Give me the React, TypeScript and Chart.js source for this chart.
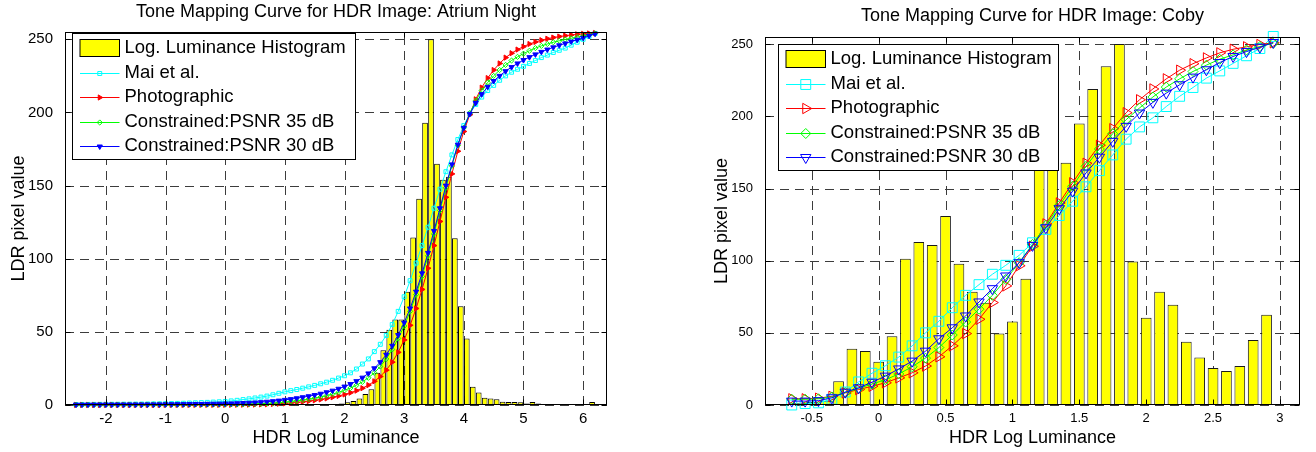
import React, { useEffect, useRef } from 'react';
import { Chart, registerables } from 'chart.js';

Chart.register(...registerables);

const FONT = '"Liberation Sans", Arial, Helvetica, sans-serif';

const seriesLabels = [
  'Log. Luminance Histogram',
  'Mai et al.',
  'Photographic',
  'Constrained:PSNR 35 dB',
  'Constrained:PSNR 30 dB',
];
const seriesColors = ['#00FFFF', '#FF0000', '#00FF00', '#0000FF'];

// ---------------- Atrium Night ----------------
const atriumTitle = 'Tone Mapping Curve for HDR Image: Atrium Night';
const atriumXTicks = [-2, -1, 0, 1, 2, 3, 4, 5, 6];
const atriumYTicks = [0, 50, 100, 150, 200, 250];

const atriumHistX = [
  1.55, 1.65, 1.75, 1.85, 1.95, 2.05, 2.15, 2.25, 2.35, 2.45,
  2.55, 2.65, 2.75, 2.85, 2.95, 3.05, 3.15, 3.25, 3.35, 3.45,
  3.55, 3.65, 3.75, 3.85, 3.95, 4.05, 4.15, 4.25, 4.35, 4.45,
  4.55, 4.65, 4.75, 4.85, 4.95, 5.05, 5.15, 5.25, 5.35, 5.45,
  5.55, 5.65, 5.75, 5.85, 5.95, 6.05, 6.15, 6.25,
];
const atriumHistY = [
  0.2, 0.3, 0.4, 0.6, 1.0, 1.8, 2.8, 4.5, 7.5, 10.7,
  22.0, 37.5, 51.5, 58.5, 58.5, 77.5, 114.5, 141.0, 193.0, 250.0,
  165.0, 154.0, 156.0, 114.0, 67.5, 45.5, 12.5, 8.5, 5.0, 4.5,
  4.0, 2.3, 2.0, 2.0, 1.8, 1.0, 2.0, 1.0, 0.5, 0.4,
  0.3, 0.3, 0.3, 0.3, 0.3, 0.3, 2.0, 0.3,
];

const atriumCurveX = [
  -2.5, -2.4, -2.3, -2.2, -2.1, -2.0, -1.9, -1.8, -1.7, -1.6,
  -1.5, -1.4, -1.3, -1.2, -1.1, -1.0, -0.9, -0.8, -0.7, -0.6,
  -0.5, -0.4, -0.3, -0.2, -0.1, 0.0, 0.1, 0.2, 0.3, 0.4,
  0.5, 0.6, 0.7, 0.8, 0.9, 1.0, 1.1, 1.2, 1.3, 1.4,
  1.5, 1.6, 1.7, 1.8, 1.9, 2.0, 2.1, 2.2, 2.3, 2.4,
  2.5, 2.6, 2.7, 2.8, 2.9, 3.0, 3.1, 3.2, 3.3, 3.4,
  3.5, 3.6, 3.7, 3.8, 3.9, 4.0, 4.1, 4.2, 4.3, 4.4,
  4.5, 4.6, 4.7, 4.8, 4.9, 5.0, 5.1, 5.2, 5.3, 5.4,
  5.5, 5.6, 5.7, 5.8, 5.9, 6.0, 6.1, 6.2,
];
const atriumMai = [
  0.35, 0.38, 0.40, 0.43, 0.45, 0.48, 0.50, 0.53, 0.56, 0.60,
  0.63, 0.67, 0.72, 0.77, 0.83, 0.90, 1.00, 1.10, 1.20, 1.35,
  1.50, 1.65, 1.80, 2.00, 2.20, 2.40, 2.80, 3.20, 3.70, 4.20,
  4.80, 5.40, 6.10, 7.00, 8.00, 9.00, 9.80, 10.6, 11.5, 12.4,
  13.4, 14.5, 15.6, 16.9, 18.4, 20.0, 22.0, 24.6, 28.0, 31.5,
  36.5, 41.5, 47.5, 55.0, 64.0, 74.0, 85.0, 97.0, 109.0, 121.5,
  134.5, 147.5, 159.5, 171.0, 181.5, 191.0, 199.0, 205.5, 210.5, 215.0,
  218.5, 222.0, 225.0, 227.5, 229.5, 231.5, 233.5, 235.5, 237.5, 239.2,
  241.0, 242.5, 244.0, 246.0, 248.0, 250.0, 252.0, 254.0,
];
const atriumPhoto = [
  0.02, 0.02, 0.02, 0.02, 0.02, 0.03, 0.03, 0.03, 0.03, 0.04,
  0.04, 0.04, 0.05, 0.05, 0.05, 0.06, 0.06, 0.07, 0.07, 0.08,
  0.08, 0.09, 0.10, 0.11, 0.12, 0.13, 0.15, 0.17, 0.20, 0.25,
  0.30, 0.40, 0.50, 0.70, 0.90, 1.10, 1.40, 1.80, 2.20, 2.70,
  3.20, 3.80, 4.50, 5.30, 6.20, 7.20, 8.40, 9.80, 11.5, 13.6,
  16.2, 19.5, 23.8, 29.3, 36.0, 44.5, 54.5, 66.0, 79.0, 93.5,
  109.0, 125.5, 142.0, 158.0, 173.5, 187.0, 198.5, 209.0, 217.0, 223.5,
  229.0, 233.5, 237.5, 240.5, 243.0, 245.0, 246.8, 248.2, 249.4, 250.4,
  251.2, 251.9, 252.5, 253.0, 253.4, 253.7, 254.0, 254.3,
];
const atriumPsnr35 = [
  0.15, 0.15, 0.16, 0.16, 0.17, 0.17, 0.18, 0.18, 0.19, 0.19,
  0.20, 0.20, 0.21, 0.22, 0.22, 0.23, 0.24, 0.25, 0.26, 0.27,
  0.28, 0.29, 0.30, 0.32, 0.33, 0.35, 0.40, 0.47, 0.55, 0.65,
  0.77, 0.92, 1.10, 1.35, 1.65, 2.00, 2.40, 2.90, 3.40, 4.00,
  4.70, 5.50, 6.40, 7.40, 8.60, 10.0, 11.6, 13.5, 15.8, 18.6,
  22.0, 26.3, 31.5, 38.0, 45.5, 54.0, 64.0, 75.5, 88.0, 102.0,
  117.0, 133.0, 148.5, 163.5, 177.5, 189.5, 199.5, 208.0, 215.0, 220.5,
  225.0, 229.0, 232.5, 235.5, 238.0, 240.2, 242.2, 244.0, 245.5, 246.8,
  248.0, 249.0, 249.9, 250.7, 251.5, 252.3, 253.1, 254.0,
];
const atriumPsnr30 = [
  0.25, 0.26, 0.27, 0.28, 0.29, 0.30, 0.31, 0.32, 0.33, 0.34,
  0.35, 0.36, 0.38, 0.40, 0.42, 0.45, 0.50, 0.53, 0.57, 0.62,
  0.67, 0.72, 0.78, 0.85, 0.92, 1.00, 1.10, 1.20, 1.35, 1.50,
  1.70, 1.95, 2.25, 2.60, 3.00, 3.50, 4.00, 4.60, 5.30, 6.00,
  6.80, 7.70, 8.70, 9.80, 11.1, 12.6, 14.3, 16.3, 18.7, 21.6,
  25.1, 29.3, 34.4, 40.5, 47.8, 56.3, 66.0, 77.5, 90.0, 104.0,
  119.0, 134.5, 150.0, 164.5, 178.0, 189.5, 199.0, 206.5, 212.5, 217.5,
  221.5, 225.0, 228.2, 231.0, 233.5, 235.8, 237.8, 239.7, 241.4, 243.0,
  244.5, 245.9, 247.2, 248.5, 249.7, 251.0, 252.4, 253.8,
];

// ---------------- Coby ----------------
const cobyTitle = 'Tone Mapping Curve for HDR Image: Coby';
const cobyXTicks = [-0.5, 0, 0.5, 1, 1.5, 2, 2.5, 3];
const cobyYTicks = [0, 50, 100, 150, 200, 250];

const cobyHistX = [
  -0.6, -0.5, -0.4, -0.3, -0.2, -0.1, 0.0, 0.1, 0.2, 0.3,
  0.4, 0.5, 0.6, 0.7, 0.8, 0.9, 1.0, 1.1, 1.2, 1.3,
  1.4, 1.5, 1.6, 1.7, 1.8, 1.9, 2.0, 2.1, 2.2, 2.3,
  2.4, 2.5, 2.6, 2.7, 2.8, 2.9,
];
const cobyHistY = [
  1.5, 2.0, 3.0, 16.5, 39.0, 37.5, 30.0, 47.7, 101.4, 112.9,
  110.8, 130.9, 97.8, 78.4, 70.8, 49.5, 57.8, 87.5, 176.0, 182.0,
  167.8, 195.0, 219.0, 234.7, 250.2, 99.5, 60.5, 78.4, 69.5, 43.8,
  33.0, 25.6, 23.5, 27.0, 45.0, 62.5,
];

const cobyCurveX = [
  -0.65, -0.55, -0.45, -0.35, -0.25, -0.15, -0.05, 0.05, 0.15, 0.25,
  0.35, 0.45, 0.55, 0.65, 0.75, 0.85, 0.95, 1.05, 1.15, 1.25,
  1.35, 1.45, 1.55, 1.65, 1.75, 1.85, 1.95, 2.05, 2.15, 2.25,
  2.35, 2.45, 2.55, 2.65, 2.75, 2.85, 2.95,
];
const cobyMai = [
  0.0, 1.0, 1.5, 4.0, 9.0, 16.0, 22.0, 27.2, 33.2, 41.0,
  50.0, 58.0, 67.4, 76.0, 83.4, 90.6, 96.8, 103.7, 112.4, 121.7,
  131.3, 141.2, 151.2, 162.4, 173.3, 184.2, 192.7, 199.0, 206.8, 213.9,
  220.0, 226.5, 231.5, 236.7, 242.0, 247.0, 255.4,
];
const cobyPhoto = [
  4.3, 4.3, 4.7, 6.0, 8.4, 10.7, 13.0, 15.4, 18.8, 22.3,
  27.0, 33.4, 41.0, 49.5, 59.4, 71.0, 82.5, 96.5, 110.0, 125.5,
  140.0, 154.0, 167.5, 180.0, 191.5, 202.5, 211.5, 219.0, 226.0, 232.0,
  236.5, 240.5, 244.0, 246.5, 248.2, 249.8, 251.0,
];
const cobyPsnr35 = [
  4.0, 4.0, 4.3, 5.6, 8.6, 11.5, 14.5, 17.5, 21.5, 26.5,
  32.5, 39.8, 48.5, 57.5, 66.4, 76.0, 87.0, 98.6, 111.3, 124.4,
  138.2, 151.6, 165.4, 177.4, 188.0, 197.7, 205.8, 213.4, 220.3, 226.0,
  231.1, 235.5, 239.6, 242.6, 246.0, 248.4, 250.7,
];
const cobyPsnr30 = [
  2.7, 2.7, 3.0, 5.0, 8.9, 11.9, 15.8, 20.0, 25.0, 30.4,
  37.3, 45.9, 53.5, 61.7, 71.4, 80.6, 89.4, 98.6, 110.6, 122.8,
  136.0, 148.2, 160.8, 171.7, 182.7, 193.1, 202.3, 209.7, 216.1, 221.9,
  227.2, 232.3, 237.3, 241.5, 244.9, 247.9, 251.2,
];

// ---------------- rendering ----------------
interface MarkerSpec { style: string; r: number; rot: number; fill: string }
interface PanelCfg {
  left: number; width: number; height: number;
  area: { left: number; right: number; top: number; bottom: number };
  xMin: number; xMax: number; yMin: number; yMax: number;
  xTicks: number[]; yTicks: number[];
  histX: number[]; histY: number[];
  curveX: number[]; curves: number[][];
  markers: MarkerSpec[];
  barPct: number;
  barBorder: string;
  tickFont: number; tickPadX: number; tickPadY: number;
  title: string; titleX: number; titleY: number;
  xLabelX: number; xLabelY: number; yLabelX: number; yLabelY: number;
  legendBox: [number, number, number, number];
}

function drawMarker(ctx: CanvasRenderingContext2D, m: MarkerSpec, x: number, y: number, color: string) {
  ctx.beginPath();
  const r = m.r;
  if (m.style === 'rect') {
    const s = r * Math.SQRT1_2;
    ctx.rect(x - s, y - s, 2 * s, 2 * s);
  } else if (m.style === 'triangle') {
    let rad = (m.rot * Math.PI) / 180;
    ctx.moveTo(x + Math.sin(rad) * r, y - Math.cos(rad) * r);
    rad += (2 * Math.PI) / 3;
    ctx.lineTo(x + Math.sin(rad) * r, y - Math.cos(rad) * r);
    rad += (2 * Math.PI) / 3;
    ctx.lineTo(x + Math.sin(rad) * r, y - Math.cos(rad) * r);
    ctx.closePath();
  } else {
    ctx.moveTo(x, y - r);
    ctx.lineTo(x + r, y);
    ctx.lineTo(x, y + r);
    ctx.lineTo(x - r, y);
    ctx.closePath();
  }
  if (m.fill !== 'transparent') {
    ctx.fillStyle = m.fill;
    ctx.fill();
  }
  ctx.strokeStyle = color;
  ctx.lineWidth = 1;
  ctx.stroke();
}

function decorPlugin(cfg: PanelCfg) {
  return {
    id: 'matlabDecor',
    beforeDatasetsDraw(chart: any) {
      const { ctx, chartArea: a, scales } = chart;
      ctx.save();
      ctx.strokeStyle = '#3c3c3c';
      ctx.lineWidth = 1;
      ctx.setLineDash([9, 6]);
      for (const v of cfg.xTicks) {
        const px = Math.round(scales.x.getPixelForValue(v)) + 0.5;
        ctx.beginPath();
        ctx.moveTo(px, a.bottom);
        ctx.lineTo(px, a.top);
        ctx.stroke();
      }
      for (const v of cfg.yTicks) {
        const py = Math.round(scales.y.getPixelForValue(v)) + 0.5;
        ctx.beginPath();
        ctx.moveTo(a.left, py);
        ctx.lineTo(a.right, py);
        ctx.stroke();
      }
      ctx.restore();
    },
    afterDatasetsDraw(chart: any) {
      const { ctx, chartArea: a, scales } = chart;
      ctx.save();
      ctx.setLineDash([]);
      ctx.strokeStyle = '#000';
      ctx.lineWidth = 1;
      const L = Math.round(a.left) + 0.5;
      const R = Math.round(a.right) - 0.5;
      const T = Math.round(a.top) + 0.5;
      const B = Math.round(a.bottom) - 0.5;
      ctx.strokeRect(L, T, R - L, B - T);
      const tl = 5;
      ctx.beginPath();
      for (const v of cfg.xTicks) {
        const px = Math.round(scales.x.getPixelForValue(v)) + 0.5;
        ctx.moveTo(px, B); ctx.lineTo(px, B - tl);
        ctx.moveTo(px, T); ctx.lineTo(px, T + tl);
      }
      for (const v of cfg.yTicks) {
        const py = Math.round(scales.y.getPixelForValue(v)) + 0.5;
        ctx.moveTo(L, py); ctx.lineTo(L + tl, py);
        ctx.moveTo(R, py); ctx.lineTo(R - tl, py);
      }
      ctx.stroke();

      // legend
      const [bl, bt, br, bb] = cfg.legendBox;
      ctx.fillStyle = '#fff';
      ctx.fillRect(bl, bt, br - bl, bb - bt);
      ctx.strokeStyle = '#000';
      ctx.strokeRect(bl, bt, br - bl, bb - bt);
      const rowOff = [14.5, 39, 63.5, 88, 112.5];
      ctx.font = `18.5px ${FONT}`;
      ctx.textBaseline = 'middle';
      ctx.textAlign = 'left';
      for (let i = 0; i < 5; i++) {
        const cy = bt + rowOff[i];
        const sx0 = bl + 7.5;
        const sx1 = bl + 47;
        if (i === 0) {
          ctx.fillStyle = '#FFFF00';
          ctx.fillRect(sx0, cy - 8.5, sx1 - sx0, 17);
          ctx.strokeStyle = '#000';
          ctx.strokeRect(sx0, cy - 8.5, sx1 - sx0, 17);
        } else {
          const col = seriesColors[i - 1];
          ctx.strokeStyle = col;
          ctx.lineWidth = 1;
          ctx.beginPath();
          ctx.moveTo(sx0, Math.round(cy) + 0.5);
          ctx.lineTo(sx1, Math.round(cy) + 0.5);
          ctx.stroke();
          drawMarker(ctx, cfg.markers[i - 1], (sx0 + sx1) / 2, Math.round(cy) + 0.5, col);
        }
        ctx.fillStyle = '#000';
        ctx.fillText(seriesLabels[i], bl + 52, cy);
      }
      ctx.restore();
    },
    afterDraw(chart: any) {
      const { ctx } = chart;
      ctx.save();
      ctx.fillStyle = '#000';
      ctx.font = `18px ${FONT}`;
      ctx.textAlign = 'center';
      ctx.textBaseline = 'alphabetic';
      ctx.fillText(cfg.title, cfg.titleX, cfg.titleY);
      ctx.fillText('HDR Log Luminance', cfg.xLabelX, cfg.xLabelY);
      ctx.translate(cfg.yLabelX, cfg.yLabelY);
      ctx.rotate(-Math.PI / 2);
      ctx.fillText('LDR pixel value', 0, 0);
      ctx.restore();
    },
  };
}

function Panel({ cfg }: { cfg: PanelCfg }) {
  const ref = useRef<HTMLCanvasElement>(null);
  useEffect(() => {
    const canvas = ref.current;
    if (!canvas) return;
    const datasets: any[] = [
      {
        type: 'bar',
        label: seriesLabels[0],
        data: cfg.histX.map((x, i) => ({ x, y: cfg.histY[i] })),
        backgroundColor: '#FFFF00',
        borderColor: cfg.barBorder,
        borderWidth: 1,
        barPercentage: cfg.barPct,
        categoryPercentage: 1,
        order: 10,
      },
      ...cfg.curves.map((ys, k) => ({
        type: 'line',
        label: seriesLabels[k + 1],
        data: cfg.curveX.map((x, i) => ({ x, y: ys[i] })),
        borderColor: seriesColors[k],
        backgroundColor: seriesColors[k],
        borderWidth: 1,
        pointStyle: cfg.markers[k].style,
        pointRadius: cfg.markers[k].r,
        pointRotation: cfg.markers[k].rot,
        pointBackgroundColor: cfg.markers[k].fill,
        pointBorderColor: seriesColors[k],
        pointBorderWidth: 1,
        tension: 0,
        fill: false,
        clip: false,
        order: 4 - k,
      })),
    ];
    const tickOpts = (pad: number) => ({
      color: '#000',
      font: { family: FONT, size: cfg.tickFont },
      padding: pad,
      maxRotation: 0,
      autoSkip: false,
      callback: (v: any) => String(v),
    });
    const chart = new Chart(canvas, {
      type: 'bar',
      data: { datasets },
      options: {
        responsive: false,
        animation: false,
        events: [],
        layout: {
          autoPadding: false,
          padding: { left: 0, top: cfg.area.top, right: cfg.width - cfg.area.right, bottom: 0 },
        },
        plugins: {
          legend: { display: false },
          tooltip: { enabled: false },
          title: { display: false },
        },
        scales: {
          x: {
            type: 'linear',
            min: cfg.xMin,
            max: cfg.xMax,
            offset: false,
            grid: { display: false },
            border: { display: false },
            afterBuildTicks: (s: any) => { s.ticks = cfg.xTicks.map((v) => ({ value: v })); },
            afterFit: (s: any) => { s.height = cfg.height - cfg.area.bottom; },
            ticks: tickOpts(cfg.tickPadX),
          },
          y: {
            type: 'linear',
            min: cfg.yMin,
            max: cfg.yMax,
            grid: { display: false },
            border: { display: false },
            afterBuildTicks: (s: any) => { s.ticks = cfg.yTicks.map((v) => ({ value: v })); },
            afterFit: (s: any) => { s.width = cfg.area.left; },
            ticks: tickOpts(cfg.tickPadY),
          },
        },
      } as any,
      plugins: [decorPlugin(cfg) as any],
    });
    return () => chart.destroy();
  }, [cfg]);
  return (
    <canvas
      ref={ref}
      width={cfg.width}
      height={cfg.height}
      style={{ position: 'absolute', left: cfg.left, top: 0, width: cfg.width, height: cfg.height }}
    />
  );
}

const atriumCfg: PanelCfg = {
  left: 0, width: 658, height: 452,
  area: { left: 65, right: 607, top: 32, bottom: 405 },
  xMin: -2.685, xMax: 6.4, yMin: 0, yMax: 255,
  xTicks: atriumXTicks, yTicks: atriumYTicks,
  histX: atriumHistX, histY: atriumHistY,
  curveX: atriumCurveX, curves: [atriumMai, atriumPhoto, atriumPsnr35, atriumPsnr30],
  markers: [
    { style: 'rect', r: 2.8, rot: 0, fill: 'transparent' },
    { style: 'triangle', r: 3, rot: 90, fill: '#FF0000' },
    { style: 'rectRot', r: 2.6, rot: 0, fill: 'transparent' },
    { style: 'triangle', r: 3, rot: 180, fill: '#0000FF' },
  ],
  barPct: 0.95,
  barBorder: '#000000',
  tickFont: 15, tickPadX: -3, tickPadY: 4,
  title: atriumTitle, titleX: 336, titleY: 17,
  xLabelX: 336, xLabelY: 443, yLabelX: 24, yLabelY: 218.5,
  legendBox: [72.5, 33.5, 355.5, 159.5],
};

const cobyCfg: PanelCfg = {
  left: 658, width: 658, height: 452,
  area: { left: 107, right: 642, top: 37, bottom: 405 },
  xMin: -0.85, xMax: 3.15, yMin: 0, yMax: 255,
  xTicks: cobyXTicks, yTicks: cobyYTicks,
  histX: cobyHistX, histY: cobyHistY,
  curveX: cobyCurveX, curves: [cobyMai, cobyPhoto, cobyPsnr35, cobyPsnr30],
  markers: [
    { style: 'rect', r: 7, rot: 0, fill: 'transparent' },
    { style: 'triangle', r: 6, rot: 90, fill: 'transparent' },
    { style: 'rectRot', r: 5, rot: 0, fill: 'transparent' },
    { style: 'triangle', r: 6, rot: 180, fill: 'transparent' },
  ],
  barPct: 0.8,
  barBorder: '#1a1a1a',
  tickFont: 13, tickPadX: -2, tickPadY: 4,
  title: cobyTitle, titleX: 374.5, titleY: 21,
  xLabelX: 374.5, xLabelY: 443, yLabelX: 69, yLabelY: 221,
  legendBox: [120.5, 44.5, 400.5, 170.5],
};

export default function App() {
  return (
    <div style={{ position: 'absolute', left: 0, top: 0, width: 1316, height: 452, background: '#fff', overflow: 'hidden' }}>
      <Panel cfg={atriumCfg} />
      <Panel cfg={cobyCfg} />
    </div>
  );
}
